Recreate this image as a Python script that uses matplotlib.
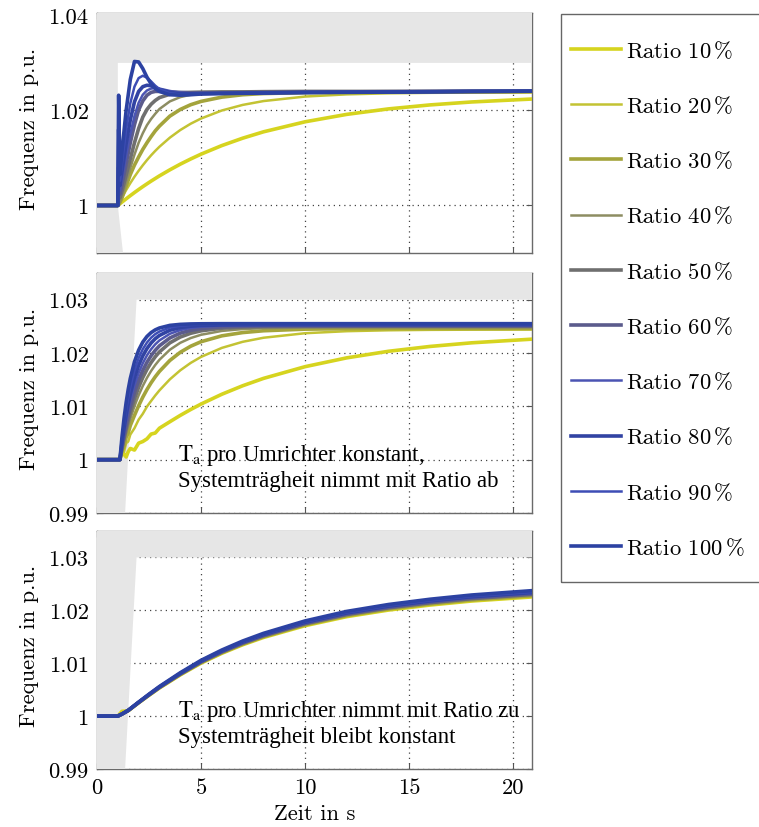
import numpy as np
import matplotlib
matplotlib.use("Agg")
import matplotlib.pyplot as plt
from matplotlib.patches import Polygon, Rectangle

plt.rcParams['font.family'] = 'cmr10'
plt.rcParams['mathtext.fontset'] = 'cm'
plt.rcParams['axes.formatter.use_mathtext'] = True

#########  data  #########
ratios = [10, 20, 30, 40, 50, 60, 70, 80, 90, 100]

# frequency deviation in 1e-3 p.u., top panel (with spike at load step)
t_top = [0, 1.0, 1.04, 1.1, 1.2, 1.4, 1.6, 1.8, 2.0, 2.2, 2.4, 2.6, 2.8, 3.0, 3.5,
         4.0, 4.5, 5.0, 6.0, 7.0, 8.0, 10, 12, 14, 16, 18, 21]
top_10 = [0, 0, 0.14, 0.36, 0.71, 1.40, 2.07, 2.72, 3.35, 3.96, 4.55, 5.13, 5.68, 6.23, 7.50,
          8.69, 9.78, 10.80, 12.61, 14.16, 15.50, 17.61, 19.17, 20.32, 21.16, 21.78, 22.42]
top_20 = [0, 0, 0.35, 0.86, 1.68, 3.24, 4.70, 6.05, 7.30, 8.46, 9.55, 10.56, 11.49, 12.36, 14.27,
          15.87, 17.20, 18.30, 19.99, 21.16, 21.97, 22.92, 23.38, 23.60, 23.70, 23.75, 23.78]
top_30 = [0, 0, 0.15, 0.6, 1.6, 4.1, 6.5, 8.5, 10.2, 11.8, 13.2, 14.5, 15.7, 16.7, 18.8,
          20.2, 21.2, 21.9, 22.8, 23.3, 23.55, 23.75, 23.82, 23.86, 23.9, 23.92, 23.95]
top_40 = [0, 0, 0.2, 0.8, 2.0, 4.9, 7.9, 10.7, 13.2, 15.2, 16.9, 18.2, 19.3, 20.3, 21.9,
          22.8, 23.3, 23.6, 23.8, 23.88, 23.92, 23.96, 23.98, 24.0, 24.0, 24.0, 24.0]
top_50 = [0, 0, 3.0, 1.6, 3.0, 6.4, 9.8, 13.2, 16.2, 18.6, 20.2, 21.3, 22.1, 22.7, 23.4,
          23.7, 23.8, 23.85, 23.9, 23.9, 23.95, 24.0, 24.0, 24.0, 24.0, 24.02, 24.05]
top_60 = [0, 0, 8.0, 2.4, 4.4, 8.8, 13.2, 17.0, 20.1, 22.0, 23.2, 23.8, 24.0, 24.0, 23.9,
          23.8, 23.7, 23.7, 23.7, 23.75, 23.8, 23.85, 23.9, 23.95, 24.0, 24.02, 24.05]
top_70 = [0, 0, 12.0, 3.2, 5.6, 10.5, 15.0, 18.8, 21.6, 23.3, 24.2, 24.6, 24.7, 24.6, 24.1,
          23.75, 23.6, 23.6, 23.65, 23.7, 23.75, 23.8, 23.85, 23.9, 23.95, 24.0, 24.05]
top_80 = [0, 0, 16.0, 4.2, 7.2, 13.0, 18.0, 21.8, 24.0, 25.0, 25.3, 25.2, 24.8, 24.4, 23.8,
          23.5, 23.5, 23.55, 23.6, 23.65, 23.7, 23.8, 23.85, 23.9, 23.95, 24.0, 24.05]
top_90 = [0, 0, 20.0, 5.2, 9.0, 16.0, 21.5, 25.0, 26.8, 27.3, 26.9, 26.1, 25.2, 24.5, 23.6,
          23.35, 23.4, 23.5, 23.6, 23.65, 23.7, 23.8, 23.85, 23.9, 23.95, 24.0, 24.05]
top_100 = [0, 0, 23.2, 6.5, 11.5, 20.0, 26.5, 30.3, 30.2, 28.8, 27.0, 25.6, 24.6, 24.0, 23.3,
           23.2, 23.3, 23.45, 23.55, 23.6, 23.65, 23.75, 23.8, 23.85, 23.9, 24.0, 24.05]

# middle panel: Ta per converter constant
t_mid = [0, 1.0, 1.1, 1.2, 1.3, 1.4, 1.5, 1.6, 1.8, 2.0, 2.2, 2.4, 2.6, 2.8, 3.0,
         3.5, 4.0, 4.5, 5.0, 6.0, 7.0, 8.0, 10, 12, 14, 16, 18, 21]
mid_10 = [0, 0, 0, 1.8, 1.0, 0.5, 1.5, 2.1, 1.8, 3.1, 3.4, 3.9, 4.8, 5.0, 5.9,
          7.11, 8.30, 9.40, 10.43, 12.27, 13.86, 15.24, 17.44, 19.09, 20.32, 21.23, 21.91, 22.62]
mid_20 = [0, 0, 0, 1.5, 1.5, 3.1, 3.4, 4.7, 5.9, 7.5, 8.6, 9.95, 11.01, 12.04, 12.99,
          15.06, 16.75, 18.14, 19.27, 20.96, 22.10, 22.86, 23.71, 24.09, 24.26, 24.34, 24.37, 24.39]
mid_30 = [0, 0, 0, 1.6, 2.5, 4.2, 5.0, 6.4, 8.30, 10.11, 11.72, 13.15, 14.42, 15.55, 16.55,
          18.60, 20.13, 21.27, 22.12, 23.22, 23.83, 24.17, 24.47, 24.56, 24.59, 24.6, 24.6, 24.6]
mid_40 = [0, 0, 0, 1.77, 3.41, 4.94, 6.36, 7.68, 10.03, 12.07, 13.82, 15.33, 16.64, 17.76, 18.73,
          20.61, 21.91, 22.80, 23.42, 24.14, 24.49, 24.65, 24.77, 24.79, 24.8, 24.8, 24.8, 24.8]
mid_50 = [0, 0, 0, 2.08, 3.99, 5.74, 7.35, 8.82, 11.40, 13.57, 15.40, 16.93, 18.22, 19.30, 20.21,
          21.90, 22.99, 23.70, 24.16, 24.65, 24.85, 24.94, 24.99, 25.0, 25.0, 25.0, 25.0, 25.0]
mid_60 = [0, 0, 0, 2.39, 4.55, 6.51, 8.28, 9.88, 12.64, 14.89, 16.74, 18.26, 19.50, 20.51, 21.35,
          22.82, 23.72, 24.26, 24.59, 24.91, 25.03, 25.07, 25.1, 25.1, 25.1, 25.1, 25.1, 25.1]
mid_70 = [0, 0, 0, 2.74, 5.18, 7.35, 9.29, 11.02, 13.93, 16.24, 18.08, 19.55, 20.71, 21.63, 22.36,
          23.60, 24.30, 24.69, 24.92, 25.11, 25.17, 25.19, 25.2, 25.2, 25.2, 25.2, 25.2, 25.2]
mid_80 = [0, 0, 0, 3.16, 5.92, 8.34, 10.46, 12.31, 15.35, 17.68, 19.46, 20.83, 21.88, 22.68, 23.29,
          24.27, 24.77, 25.03, 25.16, 25.26, 25.29, 25.3, 25.3, 25.3, 25.3, 25.3, 25.3, 25.3]
mid_90 = [0, 0, 0, 3.62, 6.73, 9.39, 11.67, 13.63, 16.75, 19.04, 20.72, 21.96, 22.87, 23.54, 24.03,
          24.77, 25.11, 25.26, 25.34, 25.39, 25.4, 25.4, 25.4, 25.4, 25.4, 25.4, 25.4, 25.4]
mid_100 = [0, 0, 0, 4.24, 7.77, 10.72, 13.18, 15.23, 18.36, 20.53, 22.05, 23.10, 23.83, 24.34, 24.69,
           25.18, 25.37, 25.45, 25.48, 25.5, 25.5, 25.5, 25.5, 25.5, 25.5, 25.5, 25.5, 25.5]

# bottom panel: Ta per converter grows with ratio
t_bot = [0, 1.0, 1.2, 1.5, 2.0, 2.5, 3.0, 4.0, 5.0, 6.0, 7.0, 8.0, 10, 12, 14, 16, 18, 21]
bot_10 = [0, 0, 0.9, 1.0, 2.52, 3.94, 5.32, 7.79, 10.02, 11.88, 13.49, 14.87, 17.10, 18.81, 20.05, 21.0, 21.76, 22.56]
bot_20 = [0, 0, 0.38, 1.05, 2.53, 3.96, 5.35, 7.83, 10.08, 11.94, 13.56, 14.95, 17.19, 18.91, 20.15, 21.11, 21.87, 22.68]
bot_30 = [0, 0, 0.38, 1.06, 2.54, 3.98, 5.38, 7.87, 10.13, 12.0, 13.63, 15.02, 17.28, 19.01, 20.26, 21.22, 21.98, 22.80]
bot_40 = [0, 0, 0.39, 1.06, 2.56, 4.0, 5.4, 7.91, 10.18, 12.06, 13.7, 15.1, 17.37, 19.11, 20.36, 21.33, 22.1, 22.92]
bot_50 = [0, 0, 0.39, 1.07, 2.57, 4.03, 5.43, 7.95, 10.23, 12.13, 13.77, 15.18, 17.46, 19.21, 20.47, 21.44, 22.21, 23.04]
bot_60 = [0, 0, 0.39, 1.07, 2.58, 4.05, 5.46, 8.0, 10.29, 12.19, 13.85, 15.26, 17.55, 19.31, 20.57, 21.55, 22.33, 23.16]
bot_70 = [0, 0, 0.39, 1.08, 2.6, 4.07, 5.49, 8.04, 10.34, 12.25, 13.92, 15.34, 17.64, 19.4, 20.68, 21.66, 22.44, 23.28]
bot_80 = [0, 0, 0.39, 1.08, 2.61, 4.09, 5.52, 8.08, 10.39, 12.31, 13.99, 15.42, 17.73, 19.5, 20.78, 21.77, 22.56, 23.39]
bot_90 = [0, 0, 0.4, 1.09, 2.62, 4.11, 5.54, 8.12, 10.44, 12.38, 14.06, 15.49, 17.82, 19.6, 20.89, 21.88, 22.67, 23.51]
bot_100 = [0, 0, 0.4, 1.1, 2.65, 4.15, 5.6, 8.2, 10.55, 12.5, 14.2, 15.65, 18.0, 19.8, 21.1, 22.1, 22.9, 23.75]

top_curves = [top_10, top_20, top_30, top_40, top_50, top_60, top_70, top_80, top_90, top_100]
mid_curves = [mid_10, mid_20, mid_30, mid_40, mid_50, mid_60, mid_70, mid_80, mid_90, mid_100]
bot_curves = [bot_10, bot_20, bot_30, bot_40, bot_50, bot_60, bot_70, bot_80, bot_90, bot_100]

colors = ['#d6d41f', '#c3c333', '#a4a43c', '#8d8d62', '#6f6f6f',
          '#5b5b8c', '#4b54b3', '#3143a3', '#3d4db5', '#2c42a2']
widths = [2.6, 1.8, 2.6, 1.8, 2.6, 2.6, 1.8, 2.6, 1.8, 2.6]

# forbidden area (grey) of each panel
shade_top = [(0, 0.99), (1.25, 0.99), (1.0, 1.0), (1.0, 1.03), (21, 1.03), (21, 1.05), (0, 1.05)]
shade_low = [(0, 0.98), (1.35, 0.99), (1.9, 1.03), (21, 1.03), (21, 1.05), (0, 1.05)]

FS = 16.3
W, H = 759, 828

#########  figure  #########
fig = plt.figure(figsize=(W / 100, H / 100), dpi=100)

def panel(top_px, bot_px):
    return fig.add_axes([97 / W, 1 - bot_px / H, 435 / W, (bot_px - top_px) / H])

ax1 = panel(14, 254)
ax2 = panel(274, 514)
ax3 = panel(532, 770)

def setup(ax, ylim, yticks, ylabels, shade):
    ax.set_xlim(0, 20.9)
    ax.set_ylim(*ylim)
    ax.set_xticks([0, 5, 10, 15, 20])
    ax.set_yticks(yticks)
    ax.set_yticklabels(ylabels)
    ax.grid(True, ls=(0, (1, 3.2)), color='#444444', lw=0.9)
    ax.add_patch(Polygon(shade, closed=True, fc='#e6e6e6', ec='none', zorder=2.6))
    for s in ax.spines.values():
        s.set_color('#6a6a6a')
        s.set_linewidth(1.0)
    ax.tick_params(direction='in', length=4, width=0.8, color='#555555',
                   right=True, top=True, labelsize=FS, pad=6)
    ax.set_ylabel('Frequenz in p.u.', fontsize=FS)
    ax.yaxis.set_label_coords(-0.133, 0.52)

setup(ax1, (0.99, 1.0405), [1.0, 1.02, 1.04], ['1', '1.02', '1.04'], shade_top)
setup(ax2, (0.99, 1.035), [0.99, 1.0, 1.01, 1.02, 1.03],
      ['0.99', '1', '1.01', '1.02', '1.03'], shade_low)
setup(ax3, (0.99, 1.035), [0.99, 1.0, 1.01, 1.02, 1.03],
      ['0.99', '1', '1.01', '1.02', '1.03'], shade_low)
ax1.tick_params(labelbottom=False)
ax2.tick_params(labelbottom=False)
ax3.set_xticklabels(['0', '5', '10', '15', '20'])
ax3.set_xlabel('Zeit in s', fontsize=FS, labelpad=5)

handles = []
for ax, t, curves in [(ax1, t_top, top_curves), (ax2, t_mid, mid_curves), (ax3, t_bot, bot_curves)]:
    hs = []
    for dev, c, lw in zip(curves, colors, widths):
        f = 1 + np.array(dev) / 1000.0
        ln, = ax.plot(t, f, color=c, lw=lw, zorder=3, solid_joinstyle='round')
        hs.append(ln)
    if not handles:
        handles = hs

# notes in the lower panels
txt = dict(family='Liberation Serif', fontsize=16.4, math_fontfamily='stix', zorder=4)
ax2.text(3.89, 0.99987, r'$\mathrm{T}_{\mathrm{a}}$ pro Umrichter konstant,', **txt)
ax2.text(3.89, 0.99501, 'Systemträgheit nimmt mit Ratio ab', **txt)
ax3.text(3.89, 0.99994, r'$\mathrm{T}_{\mathrm{a}}$ pro Umrichter nimmt mit Ratio zu', **txt)
ax3.text(3.89, 0.99515, 'Systemträgheit bleibt konstant', **txt)

# legend in its own box
fig.add_artist(Rectangle((561 / W, 1 - 583 / H), 0.5, 568 / H, transform=fig.transFigure,
                         fill=False, ec='#666666', lw=1.0))
labels = [rf'Ratio ${r}\,\%$' for r in ratios]
fig.legend(handles, labels, loc='upper left', bbox_to_anchor=(571 / W, 1 - 40 / H),
           frameon=False, fontsize=FS, handlelength=2.2, handletextpad=0.25,
           labelspacing=1.48, borderpad=0, borderaxespad=0)

fig.savefig('out.png', dpi=100)
